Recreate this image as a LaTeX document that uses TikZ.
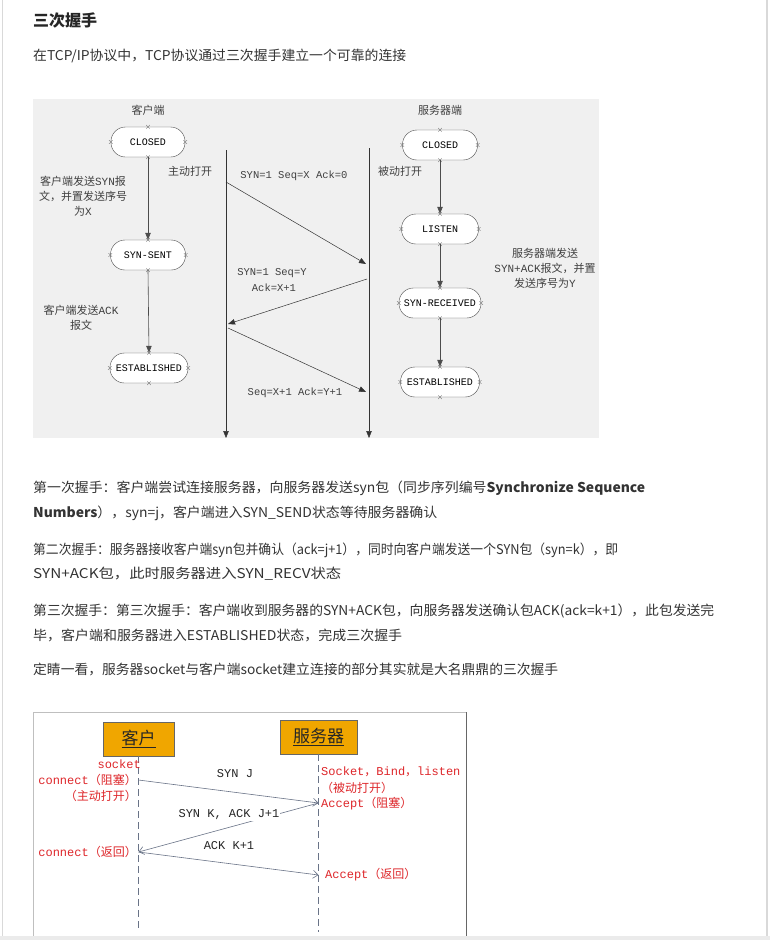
\documentclass[tikz,border=0pt]{standalone}
\usepackage{fontspec}
\usepackage{graphicx}
\setmainfont{Noto Sans CJK SC}
\newfontfamily\cjk{Noto Sans CJK SC}
\newfontfamily\mono{Liberation Mono}
\usetikzlibrary{arrows.meta}
\definecolor{txt}{RGB}{51,51,51}
\definecolor{panel}{RGB}{240,240,240}
\definecolor{redt}{RGB}{222,38,42}
\definecolor{orangebox}{RGB}{240,166,0}
\definecolor{seqline}{RGB}{105,115,135}
\newcommand\mm[1]{{\mono #1}}
\newcommand\pline[2]{\resizebox{#1pt}{\height}{#2}}
\newcommand\xmarks[1]{%
  \foreach \a in {north,south,east,west}{%
    \draw[black!55,line width=0.4pt] ([shift={(-1.8,-1.8)}]#1.\a) -- ++(3.6,3.6)
      ([shift={(-1.8,1.8)}]#1.\a) -- ++(3.6,-3.6);}}
\begin{document}
\begin{tikzpicture}[x=1pt,y=-1pt,
  para/.style={anchor=west,inner sep=0pt,text=txt,font=\fontsize{13.5}{16}\selectfont},
  state/.style={draw=black!70,fill=white,rounded corners=14.5pt,minimum height=30pt,inner sep=0pt,font=\mono\fontsize{10}{12}\selectfont},
  lbl/.style={inner sep=0pt,text=black!75,font=\mono\fontsize{10.5}{12}\selectfont},
  clbl/.style={inner sep=0pt,text=black!75,align=center,font=\cjk\fontsize{11}{15}\selectfont},
  flowarr/.style={draw=black!70,line width=0.6pt,-{Triangle[length=7pt,width=5.5pt]}},
  msgarr/.style={draw=black!80,line width=0.5pt,-{Triangle[length=7pt,width=5.5pt]}},
  orgbox/.style={draw=black!60,fill=orangebox,minimum height=34pt,inner sep=0pt,font=\cjk\fontsize{17}{20}\selectfont,text=black!85},
  redtxt/.style={inner sep=0pt,text=redt,font=\mono\fontsize{12}{14}\selectfont},
  seqarr/.style={draw=seqline,line width=0.6pt,-{Straight Barb[length=5pt,width=8pt]}},
  seqlbl/.style={inner sep=1pt,text=black!85,font=\mono\fontsize{12}{14}\selectfont}]
\useasboundingbox (0,0) rectangle (770,940);
\fill[white] (0,0) rectangle (770,940);
\draw[black!15,line width=1pt] (2,0) -- (2,940);
\draw[black!15,line width=2pt] (767,0) -- (767,940);

% header
\node[para,anchor=west,text=black!85,font=\bfseries\fontsize{16}{18}\selectfont] (title) at (33,20) {三次握手};
\node[para] (intro) at (33,56) {\pline{373}{在TCP/IP协议中，TCP协议通过三次握手建立一个可靠的连接}};

% ---------- diagram 1 ----------
\fill[panel] (33,99) rectangle (599,438);
\node[clbl] (chead) at (148,110) {客户端};
\node[clbl] (shead) at (440,110) {服务器端};

\node[state,minimum width=74pt] (cclosed) at (148,142) {CLOSED};
\node[state,minimum width=75pt] (csent) at (148,255) {SYN-SENT};
\node[state,minimum width=78pt] (cest) at (149,368) {ESTABLISHED};
\node[state,minimum width=75pt] (sclosed) at (440,145) {CLOSED};
\node[state,minimum width=77pt] (slisten) at (440,229) {LISTEN};
\node[state,minimum width=82pt] (srecv) at (440,303) {SYN-RECEIVED};
\node[state,minimum width=79pt] (sest) at (440,382) {ESTABLISHED};
\foreach \n in {cclosed,csent,cest,sclosed,slisten,srecv,sest}{\xmarks{\n}}

\draw[flowarr] (cclosed.south) -- (csent.north);
\draw[flowarr] (csent.south) -- (cest.north);
\draw[flowarr] (sclosed.south) -- (slisten.north);
\draw[flowarr] (slisten.south) -- (srecv.north);
\draw[flowarr] (srecv.south) -- (sest.north);

\coordinate (lt) at (226,150);
\coordinate (lb) at (226,438);
\coordinate (rt) at (369,148);
\coordinate (rb) at (369,438);
\draw[msgarr] (lt) -- (lb);
\draw[msgarr] (rt) -- (rb);
\coordinate (m1a) at (226,182);
\coordinate (m1b) at (366,264);
\coordinate (m2a) at (367,279);
\coordinate (m2b) at (228,324);
\coordinate (m3a) at (228,328);
\coordinate (m3b) at (366,392);
\draw[msgarr] (m1a) -- (m1b);
\draw[msgarr] (m2a) -- (m2b);
\draw[msgarr] (m3a) -- (m3b);

\node[lbl] (l1) at (294,176) {SYN=1 Seq=X Ack=0};
\node[lbl] (l2) at (272,273) {SYN=1 Seq=Y};
\node[lbl] (l2b) at (274,288) {Ack=X+1};
\node[lbl] (l3) at (295,393) {Seq=X+1 Ack=Y+1};

\node[clbl] (t1) at (190,171) {主动打开};
\node[clbl] (t2) at (400,171) {被动打开};
\node[clbl] (t3) at (83,196) {客户端发送\mm{SYN}报\\文，并置发送序号\\为\mm{X}};
\node[clbl] (t4) at (81,318) {客户端发送\mm{ACK}\\报文};
\node[clbl] (t5) at (545,268) {服务器端发送\\\mm{SYN+ACK}报文，并置\\发送序号为\mm{Y}};

% ---------- paragraphs ----------
\node[para] (p1) at (33,488) {\pline{612}{第一次握手：客户端尝试连接服务器，向服务器发送syn包（同步序列编号\textbf{Synchronize Sequence}}};
\node[para] (p1b) at (33,513) {\pline{404}{\textbf{Numbers}），syn=j，客户端进入SYN\_SEND状态等待服务器确认}};
\node[para] (p2) at (33,550) {\pline{585}{第二次握手：服务器接收客户端syn包并确认（ack=j+1），同时向客户端发送一个SYN包（syn=k），即}};
\node[para] (p2b) at (33,574) {\pline{308}{SYN+ACK包，此时服务器进入SYN\_RECV状态}};
\node[para] (p3) at (33,611) {\pline{681}{第三次握手：第三次握手：客户端收到服务器的SYN+ACK包，向服务器发送确认包ACK(ack=k+1），此包发送完}};
\node[para] (p3b) at (33,635) {\pline{369}{毕，客户端和服务器进入ESTABLISHED状态，完成三次握手}};
\node[para] (p4) at (33,669) {\pline{525}{定睛一看，服务器socket与客户端socket建立连接的部分其实就是大名鼎鼎的三次握手}};

% ---------- diagram 2 ----------
\draw[black!25,fill=white] (33,712) rectangle (466,936);
\draw[black!60,line width=1.5pt] (466.5,712) -- (466.5,936);
\fill[black!8] (0,936) rectangle (770,940);

\node[orgbox,minimum width=71pt] (kh) at (138.5,739) {\underline{客户}};
\node[orgbox,minimum width=77pt] (fwq) at (318.5,737) {\underline{服务器}};
\coordinate (khend) at (138.5,932);
\coordinate (fwqend) at (318.5,932);
\draw[seqline,line width=0.7pt,dash pattern=on 7pt off 4pt] (kh.south) -- (khend);
\draw[seqline,line width=0.7pt,dash pattern=on 7pt off 4pt] (fwq.south) -- (fwqend);

\node[redtxt,anchor=east] (rs) at (141,764) {socket};
\node[redtxt,anchor=east] (rc) at (137,780) {connect{\cjk （阻塞）}};
\node[redtxt,anchor=east] (ro) at (137,796) {\cjk （主动打开）};
\node[redtxt,anchor=east] (rr) at (137,852) {connect{\cjk （返回）}};
\node[redtxt,anchor=west] (sb) at (321,772) {Socket{\cjk ，}Bind{\cjk ，}listen};
\node[redtxt,anchor=west] (sp) at (321,788) {\cjk （被动打开）};
\node[redtxt,anchor=west] (sa) at (321,804) {Accept{\cjk （阻塞）}};
\node[redtxt,anchor=west] (sr) at (325,875) {Accept{\cjk （返回）}};

\coordinate (c1) at (138.5,780);
\coordinate (s1) at (318.5,803);
\coordinate (c2) at (138.5,852);
\coordinate (s2) at (318.5,875);
\draw[seqarr] (c1) -- (s1);
\draw[seqarr] (s1) -- (c2);
\draw[seqarr] (c2) -- (s2);
\node[seqlbl] (q1) at (235,774) {SYN J};
\node[seqlbl,fill=white] (q2) at (229,815) {SYN K, ACK J+1};
\node[seqlbl] (q3) at (229,846) {ACK K+1};
\end{tikzpicture}
\end{document}
